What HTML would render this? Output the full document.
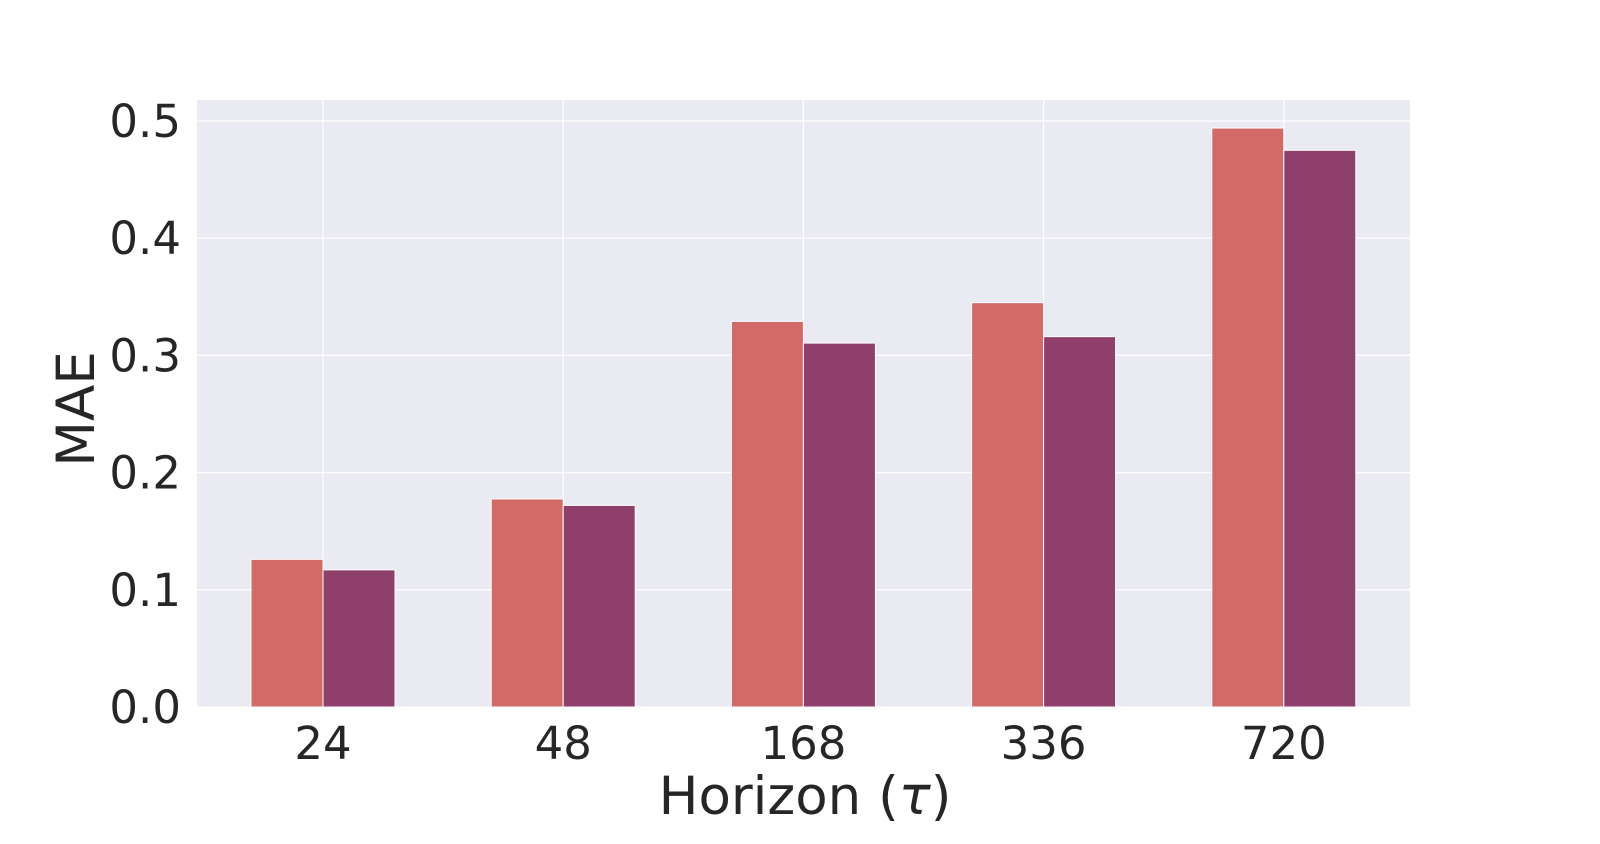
<!DOCTYPE html>
<html><head><meta charset="utf-8"><style>
body{margin:0;background:#fff;}
svg text{font-family:"DejaVu Sans","Liberation Sans",sans-serif;fill:#262626;}
</style></head><body>
<svg id="chart" width="1600" height="839" viewBox="0 0 1600 839" xmlns="http://www.w3.org/2000/svg">
<rect x="197" y="100" width="1213" height="607" fill="#eaeaf2"/>
<g id="grid"></g>
<g id="bars"></g>
<g id="ticks"></g>
<text transform="translate(94,409) rotate(-90)" text-anchor="middle" font-size="53">MAE</text>
<text x="805" y="814" text-anchor="middle" font-size="53">Horizon (<tspan font-style="italic">τ</tspan>)</text>
</svg>
<script>
const categories = ["24","48","168","336","720"];
const seriesA = [0.126, 0.1775, 0.329, 0.345, 0.494];
const seriesB = [0.117, 0.172, 0.3105, 0.316, 0.475];
const yTicks = [0.0, 0.1, 0.2, 0.3, 0.4, 0.5];
const yTickLabels = ["0.0","0.1","0.2","0.3","0.4","0.5"];

const ns = "http://www.w3.org/2000/svg";
const y = v => 707 - v * 1172;
const xc = i => 323 + i * 240.2;
const bw = 72;
const grid = document.getElementById('grid');
const bars = document.getElementById('bars');
const ticks = document.getElementById('ticks');
function mk(tag, attrs, parent){const e=document.createElementNS(ns,tag);for(const k in attrs)e.setAttribute(k,attrs[k]);parent.appendChild(e);return e;}

yTicks.forEach((t,i)=>{
  const l = mk('line',{x1:197,x2:1410,y1:y(t),y2:y(t),stroke:'#fff','stroke-width':1.2},grid);
  
  
  const tx = mk('text',{x:181,y:y(t)+16,'text-anchor':'end','font-size':45},ticks);
  tx.textContent = yTickLabels[i];
  
  
});
categories.forEach((c,i)=>{
  const l = mk('line',{x1:xc(i),x2:xc(i),y1:100,y2:707,stroke:'#fff','stroke-width':1.2},grid);
  
  
  const tx = mk('text',{x:xc(i),y:759,'text-anchor':'middle','font-size':45},ticks);
  tx.textContent = c;
  
  
  const a = mk('rect',{x:xc(i)-bw,y:y(seriesA[i]),width:bw,height:707-y(seriesA[i]),fill:'#d26a68',stroke:'#fff','stroke-width':1},bars);
  
  
  const b = mk('rect',{x:xc(i),y:y(seriesB[i]),width:bw,height:707-y(seriesB[i]),fill:'#8e3f6c',stroke:'#fff','stroke-width':1},bars);
  
  
});
</script>
</body></html>
